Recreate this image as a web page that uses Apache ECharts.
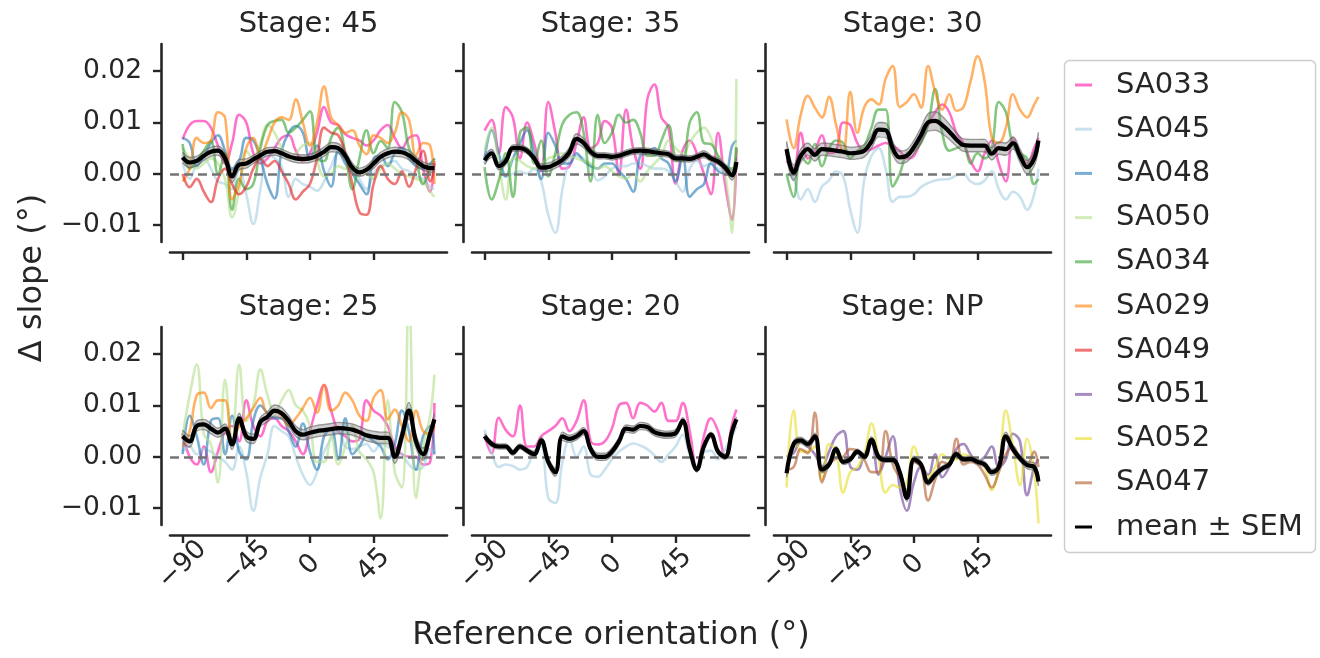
<!DOCTYPE html>
<html>
<head>
<meta charset="utf-8">
<script src="https://cdn.jsdelivr.net/npm/echarts@6/dist/echarts.min.js"></script>
<style>
  html, body { margin: 0; padding: 0; background: #ffffff; }
  #chart { width: 1320px; height: 658px; }
</style>
</head>
<body>
<div id="chart"></div>
<script>
// Reference orientation sampled in degrees (shared by every panel)
const orientation = [-90,-85,-80,-75,-70,-65,-60,-55,-50,-45,-40,-35,-30,-25,-20,-15,-10,-5,0,5,10,15,20,25,30,35,40,45,50,55,60,65,70,75,80,85,88];
const xTicks = [-90, -45, 0, 45];
const yTicks = [-0.01, 0, 0.01, 0.02];
const mice = ['SA033','SA045','SA048','SA050','SA034','SA029','SA049','SA051','SA052','SA047'];
const meanLabel = 'mean \u00b1 SEM';

// ---- Stage 45 ----
const stage45_SA033 = [6.7e-3,9.5e-3,10.3e-3,10.3e-3,9.0e-3,5.5e-3,2.0e-3,6.0e-3,11.5e-3,10.0e-3,4.0e-3,2.0e-3,3.0e-3,5.0e-3,7.0e-3,7.5e-3,4.5e-3,2.5e-3,4.0e-3,8.0e-3,13.0e-3,10.0e-3,9.5e-3,7.7e-3,7.0e-3,6.5e-3,5.5e-3,6.5e-3,8.5e-3,9.5e-3,7.0e-3,5.0e-3,7.0e-3,7.5e-3,1.0e-3,-3.5e-3,2.5e-3];
const stage45_SA045 = [2.2e-3,-1.0e-3,2.0e-3,3.0e-3,1.0e-3,-1.5e-3,-2.0e-3,-3.0e-3,1.0e-3,-4.0e-3,-9.8e-3,-3.0e-3,4.0e-3,3.0e-3,1.5e-3,-4.5e-3,-1.0e-3,-2.0e-3,-2.5e-3,-3.3e-3,-1.5e-3,1.5e-3,4.0e-3,3.0e-3,1.0e-3,-1.0e-3,-3.0e-3,0,1.5e-3,2.0e-3,2.5e-3,1.0e-3,0.5e-3,-0.5e-3,-1.0e-3,-2.5e-3,-3.0e-3];
const stage45_SA048 = [7.0e-3,6.0e-3,1.5e-3,3.5e-3,6.0e-3,7.5e-3,4.5e-3,1.0e-3,2.5e-3,7.0e-3,6.5e-3,3.0e-3,-2.0e-3,-4.8e-3,4.5e-3,8.0e-3,9.3e-3,8.0e-3,3.0e-3,5.5e-3,0.5e-3,-2.5e-3,4.5e-3,2.0e-3,0,-2.0e-3,-4.0e-3,3.0e-3,3.5e-3,1.5e-3,4.0e-3,5.0e-3,3.0e-3,1.5e-3,1.0e-3,2.0e-3,3.0e-3];
const stage45_SA050 = [5.0e-3,3.0e-3,1.0e-3,2.0e-3,3.0e-3,2.0e-3,-1.0e-3,-8.5e-3,-3.0e-3,4.5e-3,3.0e-3,6.0e-3,9.5e-3,8.0e-3,5.0e-3,3.0e-3,4.0e-3,5.5e-3,6.0e-3,2.5e-3,-0.5e-3,0,1.5e-3,1.0e-3,1.5e-3,0.5e-3,0,-1.0e-3,1.0e-3,2.0e-3,1.0e-3,0,-0.5e-3,-1.0e-3,-1.5e-3,-3.5e-3,-4.5e-3];
const stage45_SA034 = [5.8e-3,1.0e-3,2.5e-3,4.5e-3,6.4e-3,0,4.0e-3,-7.0e-3,-1.0e-3,-3.0e-3,-2.0e-3,5.0e-3,9.5e-3,10.3e-3,10.5e-3,8.0e-3,9.0e-3,10.5e-3,12.2e-3,3.0e-3,2.5e-3,7.0e-3,9.0e-3,4.0e-3,-3.0e-3,3.0e-3,8.5e-3,4.0e-3,6.4e-3,5.0e-3,14.0e-3,12.0e-3,5.0e-3,2.5e-3,-2.0e-3,1.0e-3,3.0e-3];
const stage45_SA029 = [-1.5e-3,1.0e-3,7.0e-3,6.0e-3,6.5e-3,12.0e-3,11.0e-3,-5.0e-3,-2.0e-3,5.0e-3,7.0e-3,3.5e-3,6.5e-3,10.0e-3,11.0e-3,10.5e-3,14.5e-3,10.0e-3,5.5e-3,10.0e-3,17.0e-3,11.0e-3,9.5e-3,8.0e-3,8.5e-3,5.5e-3,3.8e-3,7.5e-3,7.0e-3,6.0e-3,8.0e-3,12.0e-3,10.5e-3,3.5e-3,6.0e-3,5.5e-3,-2.0e-3];
const stage45_SA049 = [0,-2.6e-3,-1.0e-3,-3.5e-3,-5.5e-3,-1.0e-3,1.0e-3,-2.0e-3,-4.0e-3,-2.5e-3,1.0e-3,3.0e-3,1.5e-3,2.5e-3,0.5e-3,-2.0e-3,-5.0e-3,-3.5e-3,-2.0e-3,3.0e-3,9.0e-3,8.0e-3,7.5e-3,4.0e-3,-2.0e-3,-7.5e-3,-8.0e-3,-2.0e-3,1.5e-3,-1.0e-3,-2.0e-3,0.5e-3,-2.5e-3,1.0e-3,4.5e-3,-1.5e-3,2.0e-3];
const stage45_mean = [3.2e-3,2.2e-3,2.5e-3,3.5e-3,4.3e-3,4.5e-3,3.0e-3,-0.5e-3,1.8e-3,2.0e-3,2.8e-3,3.6e-3,4.3e-3,4.4e-3,4.0e-3,3.4e-3,3.0e-3,2.9e-3,3.0e-3,3.5e-3,4.3e-3,5.2e-3,5.0e-3,3.5e-3,1.2e-3,0.3e-3,0.8e-3,2.0e-3,3.3e-3,4.0e-3,4.3e-3,4.2e-3,3.6e-3,2.5e-3,1.5e-3,1.1e-3,1.1e-3];
const stage45_sem = [1.0e-3,1.0e-3,0.9e-3,0.9e-3,0.9e-3,0.9e-3,1.0e-3,1.2e-3,1.0e-3,0.9e-3,0.8e-3,0.8e-3,0.8e-3,0.8e-3,0.8e-3,0.8e-3,0.8e-3,0.8e-3,0.8e-3,0.8e-3,0.9e-3,0.9e-3,0.9e-3,0.9e-3,0.9e-3,0.8e-3,0.8e-3,0.9e-3,0.9e-3,0.9e-3,0.9e-3,0.9e-3,0.9e-3,0.8e-3,0.8e-3,0.8e-3,0.8e-3];

// ---- Stage 35 ----
const stage35_SA033 = [8.4e-3,10.5e-3,4.0e-3,13.0e-3,11.0e-3,3.0e-3,10.0e-3,6.0e-3,0.5e-3,14.0e-3,8.0e-3,1.0e-3,1.5e-3,6.0e-3,11.0e-3,5.0e-3,6.0e-3,10.3e-3,9.0e-3,0,12.5e-3,5.0e-3,1.0e-3,14.5e-3,17.4e-3,11.0e-3,9.0e-3,-1.9e-3,4.5e-3,6.5e-3,4.0e-3,0,-4.0e-3,8.0e-3,-2.0e-3,-9.0e-3,5.0e-3];
const stage35_SA045 = [2.0e-3,4.5e-3,1.0e-3,-0.5e-3,0,0.5e-3,0,1.0e-3,-1.5e-3,-8.0e-3,-11.5e-3,-3.0e-3,2.5e-3,3.5e-3,3.0e-3,1.5e-3,-1.3e-3,-0.5e-3,1.0e-3,1.5e-3,1.5e-3,2.0e-3,2.0e-3,1.5e-3,1.0e-3,1.0e-3,0.5e-3,-1.5e-3,-3.5e-3,1.0e-3,2.5e-3,1.5e-3,2.0e-3,1.0e-3,0.5e-3,-0.5e-3,2.0e-3];
const stage35_SA048 = [3.0e-3,8.5e-3,4.0e-3,-0.5e-3,3.0e-3,6.0e-3,8.5e-3,4.0e-3,-1.0e-3,8.0e-3,5.5e-3,2.0e-3,2.0e-3,4.0e-3,2.5e-3,1.5e-3,1.0e-3,2.0e-3,2.0e-3,0.5e-3,-1.0e-3,-3.5e-3,3.5e-3,4.0e-3,5.0e-3,3.0e-3,2.0e-3,-1.5e-3,3.5e-3,-4.5e-3,-3.0e-3,-2.0e-3,2.0e-3,0.5e-3,0,5.5e-3,6.5e-3];
const stage35_SA050 = [4.5e-3,9.0e-3,2.0e-3,-5.0e-3,3.0e-3,2.5e-3,1.5e-3,1.0e-3,2.0e-3,3.0e-3,3.5e-3,4.0e-3,3.5e-3,3.0e-3,2.5e-3,2.0e-3,1.0e-3,1.5e-3,0.5e-3,-0.5e-3,-1.0e-3,0,-1.5e-3,0.5e-3,2.0e-3,3.5e-3,6.5e-3,5.0e-3,4.0e-3,6.0e-3,8.0e-3,9.0e-3,7.0e-3,3.0e-3,0,-11.5e-3,18.5e-3];
const stage35_SA034 = [1.3e-3,-5.0e-3,-1.3e-3,4.0e-3,-4.5e-3,8.0e-3,9.0e-3,2.0e-3,6.5e-3,-0.5e-3,4.0e-3,9.7e-3,11.5e-3,12.0e-3,8.0e-3,-1.5e-3,11.5e-3,6.0e-3,8.0e-3,11.5e-3,10.0e-3,10.5e-3,8.0e-3,3.5e-3,3.5e-3,6.5e-3,9.5e-3,3.0e-3,2.5e-3,10.0e-3,12.0e-3,6.0e-3,5.8e-3,3.5e-3,1.5e-3,1.0e-3,5.2e-3];
const stage35_mean = [2.6e-3,4.0e-3,1.5e-3,2.5e-3,5.0e-3,5.0e-3,4.5e-3,3.0e-3,1.2e-3,1.3e-3,1.9e-3,2.7e-3,4.2e-3,6.8e-3,6.0e-3,4.3e-3,3.5e-3,3.5e-3,3.3e-3,3.5e-3,4.0e-3,4.4e-3,4.5e-3,4.4e-3,4.2e-3,4.0e-3,3.8e-3,3.0e-3,3.0e-3,2.9e-3,3.3e-3,3.8e-3,3.0e-3,2.4e-3,1.2e-3,-0.3e-3,2.3e-3];
const stage35_sem = [0.8e-3,0.8e-3,0.7e-3,0.7e-3,0.6e-3,0.6e-3,0.6e-3,0.6e-3,0.7e-3,0.8e-3,0.8e-3,0.8e-3,0.9e-3,1.0e-3,0.9e-3,0.7e-3,0.6e-3,0.6e-3,0.6e-3,0.6e-3,0.6e-3,0.6e-3,0.6e-3,0.6e-3,0.6e-3,0.6e-3,0.6e-3,0.6e-3,0.6e-3,0.6e-3,0.6e-3,0.7e-3,0.6e-3,0.6e-3,0.7e-3,0.9e-3,0.9e-3];

// ---- Stage 30 ----
const stage30_SA033 = [2.5e-3,1.0e-3,8.0e-3,3.0e-3,4.5e-3,7.5e-3,4.0e-3,4.5e-3,10.0e-3,9.5e-3,6.0e-3,4.5e-3,4.8e-3,5.5e-3,6.0e-3,5.5e-3,4.5e-3,3.0e-3,3.5e-3,6.5e-3,9.5e-3,12.0e-3,13.5e-3,12.0e-3,8.0e-3,6.0e-3,2.5e-3,0.5e-3,4.0e-3,6.5e-3,2.0e-3,-1.5e-3,7.0e-3,4.0e-3,2.0e-3,5.0e-3,7.0e-3];
const stage30_SA045 = [0,-1.0e-3,-5.0e-3,-3.0e-3,-5.5e-3,-2.5e-3,-1.3e-3,0.5e-3,-0.5e-3,-7.0e-3,-11.5e-3,-1.0e-3,3.5e-3,5.0e-3,1.0e-3,-5.5e-3,-4.5e-3,-4.5e-3,-4.0e-3,-2.6e-3,-1.8e-3,-1.3e-3,-1.1e-3,-1.0e-3,-0.3e-3,0,-1.5e-3,-2.0e-3,-1.3e-3,0.5e-3,-3.0e-3,-5.0e-3,-3.5e-3,-4.5e-3,-7.0e-3,-4.0e-3,1.0e-3];
const stage30_SA034 = [0,-4.5e-3,3.5e-3,2.0e-3,5.8e-3,1.5e-3,5.0e-3,6.5e-3,6.0e-3,3.0e-3,4.5e-3,5.5e-3,9.0e-3,12.5e-3,12.5e-3,-2.5e-3,0,4.0e-3,4.5e-3,6.0e-3,9.5e-3,16.5e-3,8.0e-3,4.5e-3,5.0e-3,5.5e-3,2.0e-3,4.0e-3,3.0e-3,5.0e-3,14.0e-3,12.0e-3,5.5e-3,4.0e-3,3.0e-3,-2.0e-3,-1.0e-3];
const stage30_SA029 = [10.6e-3,5.0e-3,11.5e-3,15.2e-3,12.9e-3,11.0e-3,15.0e-3,9.5e-3,4.0e-3,16.0e-3,8.0e-3,13.0e-3,14.5e-3,13.5e-3,18.5e-3,21.0e-3,13.0e-3,14.0e-3,15.5e-3,12.9e-3,21.0e-3,16.0e-3,12.5e-3,15.5e-3,12.3e-3,13.0e-3,18.0e-3,22.9e-3,18.0e-3,7.1e-3,6.0e-3,9.0e-3,15.5e-3,12.5e-3,11.0e-3,13.5e-3,15.0e-3];
const stage30_mean = [4.8e-3,0.2e-3,3.5e-3,4.8e-3,3.7e-3,4.8e-3,4.7e-3,4.5e-3,4.3e-3,4.0e-3,4.1e-3,4.5e-3,6.3e-3,8.6e-3,8.5e-3,5.0e-3,3.2e-3,3.5e-3,5.2e-3,7.5e-3,10.0e-3,10.3e-3,9.5e-3,8.2e-3,6.7e-3,5.6e-3,5.5e-3,5.5e-3,5.5e-3,3.9e-3,5.0e-3,4.8e-3,6.0e-3,3.5e-3,1.3e-3,3.0e-3,6.5e-3];
const stage30_sem = [1.5e-3,1.5e-3,1.3e-3,1.2e-3,1.2e-3,1.2e-3,1.2e-3,1.2e-3,1.2e-3,1.2e-3,1.2e-3,1.2e-3,1.3e-3,1.4e-3,1.4e-3,1.3e-3,1.2e-3,1.2e-3,1.3e-3,1.5e-3,1.7e-3,1.8e-3,1.7e-3,1.5e-3,1.3e-3,1.2e-3,1.2e-3,1.2e-3,1.2e-3,1.2e-3,1.2e-3,1.2e-3,1.2e-3,1.3e-3,1.3e-3,1.5e-3,1.6e-3];

// ---- Stage 25 ----
const stage25_SA033 = [4.5e-3,0,-1.5e-3,2.0e-3,-3.0e-3,1.0e-3,5.0e-3,6.0e-3,3.0e-3,11.0e-3,6.0e-3,4.0e-3,7.0e-3,7.5e-3,6.0e-3,5.0e-3,3.0e-3,0.5e-3,5.0e-3,10.0e-3,14.0e-3,9.0e-3,5.0e-3,4.0e-3,3.0e-3,3.5e-3,11.0e-3,9.0e-3,8.0e-3,6.0e-3,2.0e-3,0.5e-3,0,0,-1.5e-3,-1.0e-3,10.5e-3];
const stage25_SA045 = [1.0e-3,2.0e-3,0.5e-3,1.5e-3,1.0e-3,0,-1.0e-3,-2.5e-3,2.0e-3,-3.0e-3,-10.5e-3,-4.0e-3,0.5e-3,6.0e-3,5.0e-3,4.0e-3,0,-3.5e-3,-5.5e-3,-3.0e-3,1.0e-3,3.5e-3,5.0e-3,2.0e-3,1.5e-3,2.0e-3,2.5e-3,1.0e-3,2.5e-3,2.0e-3,1.0e-3,0.5e-3,-1.5e-3,-2.5e-3,-2.0e-3,1.5e-3,0.5e-3];
const stage25_SA048 = [0.5e-3,8.0e-3,4.0e-3,-1.5e-3,7.0e-3,7.5e-3,0.5e-3,8.0e-3,1.0e-3,-0.5e-3,7.0e-3,10.0e-3,8.5e-3,7.5e-3,7.5e-3,5.0e-3,2.0e-3,6.5e-3,1.0e-3,-2.5e-3,4.0e-3,5.5e-3,-0.5e-3,7.5e-3,0.5e-3,2.0e-3,4.0e-3,3.0e-3,2.0e-3,-0.5e-3,2.5e-3,9.0e-3,5.0e-3,-2.5e-3,4.0e-3,6.0e-3,0.5e-3];
const stage25_SA050 = [4.0e-3,12.0e-3,18.0e-3,4.5e-3,2.5e-3,-5.0e-3,15.0e-3,3.0e-3,18.0e-3,7.0e-3,10.0e-3,17.0e-3,12.0e-3,8.5e-3,11.0e-3,13.0e-3,10.0e-3,9.0e-3,6.0e-3,-1.0e-3,-1.0e-3,4.0e-3,-1.5e-3,2.0e-3,6.0e-3,1.0e-3,-0.5e-3,-3.0e-3,-12.0e-3,11.0e-3,-3.0e-3,-6.0e-3,32.0e-3,-8.0e-3,2.0e-3,8.0e-3,16.0e-3];
const stage25_SA029 = [2.0e-3,5.0e-3,12.0e-3,12.5e-3,9.5e-3,11.0e-3,11.0e-3,3.0e-3,6.0e-3,7.5e-3,9.5e-3,11.5e-3,8.5e-3,8.8e-3,8.0e-3,6.0e-3,7.5e-3,9.5e-3,11.5e-3,8.6e-3,14.0e-3,9.0e-3,10.0e-3,12.5e-3,11.0e-3,8.0e-3,7.0e-3,11.5e-3,13.0e-3,7.3e-3,9.2e-3,6.0e-3,3.0e-3,9.0e-3,5.0e-3,4.5e-3,5.9e-3];
const stage25_mean = [4.0e-3,3.0e-3,6.0e-3,6.3e-3,5.5e-3,4.7e-3,5.5e-3,2.4e-3,7.5e-3,4.0e-3,3.5e-3,6.8e-3,7.8e-3,9.0e-3,8.5e-3,7.0e-3,5.0e-3,4.3e-3,4.7e-3,5.0e-3,5.2e-3,5.4e-3,5.6e-3,5.5e-3,5.3e-3,4.8e-3,4.2e-3,3.9e-3,3.7e-3,3.7e-3,0,4.0e-3,9.0e-3,3.0e-3,0.5e-3,4.5e-3,7.3e-3];
const stage25_sem = [1.2e-3,1.1e-3,1.0e-3,1.0e-3,1.0e-3,0.9e-3,0.9e-3,1.0e-3,1.0e-3,1.0e-3,0.9e-3,0.9e-3,1.0e-3,1.1e-3,1.1e-3,1.0e-3,1.0e-3,1.0e-3,1.1e-3,1.1e-3,1.1e-3,1.1e-3,1.1e-3,1.1e-3,1.1e-3,1.1e-3,1.1e-3,1.1e-3,1.1e-3,1.1e-3,1.3e-3,1.4e-3,1.6e-3,1.3e-3,1.2e-3,1.1e-3,1.1e-3];

// ---- Stage 20 ----
const stage20_SA033 = [4.0e-3,0.7e-3,7.6e-3,5.2e-3,4.0e-3,10.0e-3,2.0e-3,2.0e-3,4.0e-3,5.0e-3,6.0e-3,7.5e-3,5.0e-3,7.0e-3,11.0e-3,3.0e-3,2.4e-3,3.0e-3,5.5e-3,10.0e-3,10.5e-3,7.5e-3,10.5e-3,10.0e-3,8.8e-3,10.5e-3,7.0e-3,7.0e-3,10.5e-3,5.0e-3,-2.5e-3,4.0e-3,7.5e-3,5.0e-3,0,6.5e-3,9.2e-3];
const stage20_SA045 = [5.3e-3,1.0e-3,-2.0e-3,-1.5e-3,-1.8e-3,-2.5e-3,-2.0e-3,1.0e-3,2.0e-3,-8.0e-3,-9.0e-3,-1.0e-3,3.5e-3,0,2.0e-3,-3.5e-3,-3.9e-3,-2.5e-3,-0.5e-3,1.0e-3,2.0e-3,2.6e-3,2.2e-3,1.5e-3,0.3e-3,-1.0e-3,0.5e-3,2.0e-3,4.3e-3,0.5e-3,-1.8e-3,0.8e-3,1.2e-3,-0.5e-3,1.5e-3,4.0e-3,6.0e-3];
const stage20_mean = [4.0e-3,2.5e-3,2.0e-3,2.0e-3,0.8e-3,2.0e-3,1.2e-3,0.5e-3,3.2e-3,-1.0e-3,-3.0e-3,4.0e-3,3.5e-3,4.0e-3,5.0e-3,1.5e-3,0,0,1.0e-3,3.0e-3,5.5e-3,5.3e-3,6.0e-3,5.8e-3,4.8e-3,4.4e-3,4.3e-3,4.6e-3,7.0e-3,1.5e-3,-2.5e-3,2.0e-3,4.3e-3,1.0e-3,0,5.0e-3,7.3e-3];
const stage20_sem = [0.5e-3,0.5e-3,0.5e-3,0.5e-3,0.5e-3,0.5e-3,0.5e-3,0.6e-3,0.6e-3,0.7e-3,0.8e-3,0.8e-3,0.7e-3,0.7e-3,0.7e-3,0.7e-3,0.7e-3,0.7e-3,0.7e-3,0.7e-3,0.7e-3,0.7e-3,0.7e-3,0.7e-3,0.7e-3,0.7e-3,0.7e-3,0.7e-3,0.6e-3,0.5e-3,0.5e-3,0.5e-3,0.5e-3,0.5e-3,0.5e-3,0.5e-3,0.5e-3];

// ---- Stage NP ----
const stageNP_SA051 = [0,0.7e-3,3.0e-3,2.0e-3,0.5e-3,-1.9e-3,1.0e-3,4.0e-3,5.0e-3,-1.9e-3,-2.5e-3,0.5e-3,2.6e-3,-3.5e-3,0,4.0e-3,-6.0e-3,-10.5e-3,-5.0e-3,-2.0e-3,-3.5e-3,0.5e-3,-4.0e-3,-2.0e-3,1.5e-3,2.5e-3,0.5e-3,-1.0e-3,0,2.0e-3,-2.0e-3,-0.5e-3,4.5e-3,3.0e-3,-7.5e-3,-2.0e-3,-0.5e-3];
const stageNP_SA052 = [-6.0e-3,9.0e-3,1.0e-3,1.0e-3,2.0e-3,-4.5e-3,2.5e-3,1.0e-3,-7.0e-3,-3.0e-3,-2.0e-3,0.5e-3,6.5e-3,0,-7.0e-3,-5.5e-3,-6.0e-3,-5.0e-3,2.0e-3,-1.5e-3,-4.0e-3,-2.0e-3,0.5e-3,-0.5e-3,-0.5e-3,0.5e-3,0,-0.5e-3,-2.0e-3,-6.5e-3,-2.0e-3,9.0e-3,2.0e-3,-5.5e-3,3.5e-3,-3.0e-3,-13.0e-3];
const stageNP_SA047 = [-2.5e-3,-2.0e-3,1.5e-3,0.7e-3,8.6e-3,-5.0e-3,-1.5e-3,-0.3e-3,0,1.5e-3,1.2e-3,-0.6e-3,-3.0e-3,-3.0e-3,5.0e-3,-1.5e-3,-4.0e-3,-6.5e-3,-1.0e-3,-2.0e-3,-8.5e-3,-4.5e-3,-1.0e-3,-1.5e-3,3.5e-3,-1.5e-3,-1.0e-3,-1.5e-3,-3.5e-3,-6.0e-3,-3.0e-3,0.5e-3,2.0e-3,-0.5e-3,-1.5e-3,1.0e-3,-2.0e-3];
const stageNP_mean = [-3.2e-3,2.5e-3,3.2e-3,2.5e-3,4.0e-3,-2.5e-3,-1.5e-3,1.5e-3,-1.0e-3,-0.5e-3,1.0e-3,0,3.3e-3,0,-0.6e-3,-0.6e-3,-3.0e-3,-8.0e-3,-0.5e-3,-1.5e-3,-5.0e-3,-3.5e-3,-2.3e-3,-1.5e-3,0.5e-3,-0.5e-3,-0.4e-3,-1.0e-3,-1.5e-3,-3.0e-3,-2.0e-3,4.0e-3,1.5e-3,-0.3e-3,-1.6e-3,-2.0e-3,-4.8e-3];
const stageNP_sem = [0.8e-3,0.6e-3,0.6e-3,0.6e-3,0.6e-3,0.6e-3,0.5e-3,0.5e-3,0.5e-3,0.5e-3,0.5e-3,0.5e-3,0.6e-3,0.5e-3,0.5e-3,0.5e-3,0.6e-3,0.7e-3,0.6e-3,0.5e-3,0.6e-3,0.6e-3,0.5e-3,0.5e-3,0.5e-3,0.5e-3,0.5e-3,0.5e-3,0.5e-3,0.6e-3,0.6e-3,0.8e-3,0.7e-3,0.6e-3,0.7e-3,0.8e-3,0.9e-3];

// Panels in reading order (two rows of three)
const stages = [
  { title: 'Stage: 45', mean: stage45_mean, sem: stage45_sem,
    lines: { SA033: stage45_SA033, SA045: stage45_SA045, SA048: stage45_SA048, SA050: stage45_SA050, SA034: stage45_SA034, SA029: stage45_SA029, SA049: stage45_SA049 } },
  { title: 'Stage: 35', mean: stage35_mean, sem: stage35_sem,
    lines: { SA033: stage35_SA033, SA045: stage35_SA045, SA048: stage35_SA048, SA050: stage35_SA050, SA034: stage35_SA034 } },
  { title: 'Stage: 30', mean: stage30_mean, sem: stage30_sem,
    lines: { SA033: stage30_SA033, SA045: stage30_SA045, SA034: stage30_SA034, SA029: stage30_SA029 } },
  { title: 'Stage: 25', mean: stage25_mean, sem: stage25_sem,
    lines: { SA033: stage25_SA033, SA045: stage25_SA045, SA048: stage25_SA048, SA050: stage25_SA050, SA029: stage25_SA029 } },
  { title: 'Stage: 20', mean: stage20_mean, sem: stage20_sem,
    lines: { SA033: stage20_SA033, SA045: stage20_SA045 } },
  { title: 'Stage: NP', mean: stageNP_mean, sem: stageNP_sem,
    lines: { SA051: stageNP_SA051, SA052: stageNP_SA052, SA047: stageNP_SA047 } }
];

// ---- Styling ----
const mouseColors = {
  SA033: 'rgba(255,20,170,0.6)',
  SA045: 'rgba(166,206,227,0.6)',
  SA048: 'rgba(31,120,180,0.6)',
  SA050: 'rgba(178,223,138,0.6)',
  SA034: 'rgba(51,160,44,0.6)',
  SA029: 'rgba(255,127,0,0.6)',
  SA049: 'rgba(227,26,28,0.6)',
  SA051: 'rgba(106,61,154,0.6)',
  SA052: 'rgba(230,222,40,0.6)',
  SA047: 'rgba(177,89,40,0.6)'
};
const INK = '#262626';
const FONT = '"DejaVu Sans", "Liberation Sans", sans-serif';
const PANEL_LEFT = [170, 472, 774];
const ROW_TOP = [44, 327];
const PANEL_W = 277;
const PANEL_H = 198;
const X_MIN = -98.9, X_MAX = 96.9;
const Y_MIN = -0.0133, Y_MAX = 0.0253;
const SMOOTH = 0.4;

const fmtX = v => String(v).replace('-', '\u2212');
const fmtY = v => (v < 0 ? '\u2212' : '') + Math.abs(v).toFixed(2);
const pairs = vals => orientation.map((x, k) => [x, vals[k]]);

const grids = [], xAxes = [], yAxes = [], series = [], graphics = [];

stages.forEach((st, i) => {
  const row = Math.floor(i / 3), col = i % 3;
  grids.push({ left: PANEL_LEFT[col], top: ROW_TOP[row], width: PANEL_W, height: PANEL_H, outerBoundsMode: 'none' });

  const spine = { show: true, onZero: false, lineStyle: { color: INK, width: 2.6 } };
  xAxes.push({
    type: 'value', gridIndex: i, min: X_MIN, max: X_MAX, offset: 10,
    axisLine: spine,
    axisTick: { show: true, length: 8, lineStyle: { color: INK, width: 2.4 }, customValues: xTicks },
    axisLabel: {
      show: row === 1, customValues: xTicks, formatter: fmtX, rotate: 45,
      align: 'center', verticalAlign: 'middle', margin: 30,
      fontSize: 26.5, fontFamily: FONT, color: INK
    },
    splitLine: { show: false }
  });
  yAxes.push({
    type: 'value', gridIndex: i, min: Y_MIN, max: Y_MAX, offset: 9,
    axisLine: spine,
    axisTick: { show: true, length: 8, lineStyle: { color: INK, width: 2.4 }, customValues: yTicks },
    axisLabel: {
      show: col === 0, customValues: yTicks, formatter: fmtY, margin: 19,
      fontSize: 26.5, fontFamily: FONT, color: INK
    },
    splitLine: { show: false }
  });

  // individual animals
  Object.keys(st.lines).forEach((m, k) => {
    const s = {
      type: 'line', name: m, xAxisIndex: i, yAxisIndex: i,
      data: pairs(st.lines[m]), smooth: SMOOTH, showSymbol: false, symbol: 'none',
      lineStyle: { width: 2.6, color: mouseColors[m] }, itemStyle: { color: mouseColors[m] },
      z: 2, silent: true
    };
    if (k === 0) {
      s.markLine = {
        silent: true, symbol: 'none', label: { show: false },
        lineStyle: { type: [9, 5], color: '#747474', width: 2.6 },
        data: [{ yAxis: 0 }]
      };
    }
    series.push(s);
  });

  // SEM band around the mean
  const lower = st.mean.map((v, k) => v - st.sem[k]);
  const upper = st.mean.map((v, k) => v + st.sem[k]);
  series.push({
    type: 'custom', name: 'SEM fill ' + i, xAxisIndex: i, yAxisIndex: i, z: 7, silent: true,
    data: [[orientation[0], st.mean[0]]],
    renderItem: (params, api) => {
      const top = orientation.map((x, k) => api.coord([x, upper[k]]));
      const bottom = orientation.map((x, k) => api.coord([x, lower[k]])).reverse();
      return {
        type: 'polygon',
        shape: { points: top.concat(bottom), smooth: SMOOTH },
        style: { fill: 'rgba(128,128,128,0.38)', stroke: null }
      };
    }
  });
  const edge = { width: 1.4, color: 'rgba(100,100,100,0.6)' };
  [['SEM lower ', lower], ['SEM upper ', upper]].forEach(([label, vals]) => {
    series.push({
      type: 'line', name: label + i, xAxisIndex: i, yAxisIndex: i,
      data: pairs(vals), smooth: SMOOTH, showSymbol: false, symbol: 'none',
      lineStyle: edge, itemStyle: { color: '#888888' }, z: 7, silent: true
    });
  });

  // mean across animals
  series.push({
    type: 'line', name: meanLabel, xAxisIndex: i, yAxisIndex: i,
    data: pairs(st.mean), smooth: SMOOTH, showSymbol: false, symbol: 'none',
    lineStyle: { width: 4.2, color: '#000000' }, itemStyle: { color: '#000000' }, z: 10, silent: true
  });

  graphics.push({
    type: 'text', x: PANEL_LEFT[col] + PANEL_W / 2, y: ROW_TOP[row] - 20, silent: true,
    style: { text: st.title, fontSize: 29, fontFamily: FONT, fill: INK, align: 'center', verticalAlign: 'middle' }
  });
});

// shared axis titles
graphics.push({
  type: 'text', x: 611, y: 636, silent: true,
  style: { text: 'Reference orientation (\u00b0)', fontSize: 32, fontFamily: FONT, fill: INK, align: 'center', verticalAlign: 'middle' }
});
graphics.push({
  type: 'text', x: 33, y: 278, rotation: Math.PI / 2, silent: true,
  style: { text: '\u0394 slope (\u00b0)', fontSize: 32, fontFamily: FONT, fill: INK, align: 'center', verticalAlign: 'middle' }
});
// legend frame
graphics.push({
  type: 'rect', silent: true, z: -1,
  shape: { x: 1064.5, y: 60.5, width: 251, height: 492, r: 5 },
  style: { fill: '#ffffff', stroke: '#cccccc', lineWidth: 1.4 }
});

const chart = echarts.init(document.getElementById('chart'), null, { renderer: 'canvas' });
chart.setOption({
  animation: false,
  backgroundColor: '#ffffff',
  grid: grids,
  xAxis: xAxes,
  yAxis: yAxes,
  series: series,
  graphic: graphics,
  legend: {
    data: mice.concat([meanLabel]),
    orient: 'vertical', left: 1075, top: 70, padding: 0,
    icon: 'rect', itemWidth: 17, itemHeight: 3, itemGap: 14.2,
    selectedMode: false,
    textStyle: { fontSize: 29, fontFamily: FONT, color: INK, lineHeight: 30, padding: [0, 0, 0, 19] }
  }
});
</script>
</body>
</html>
